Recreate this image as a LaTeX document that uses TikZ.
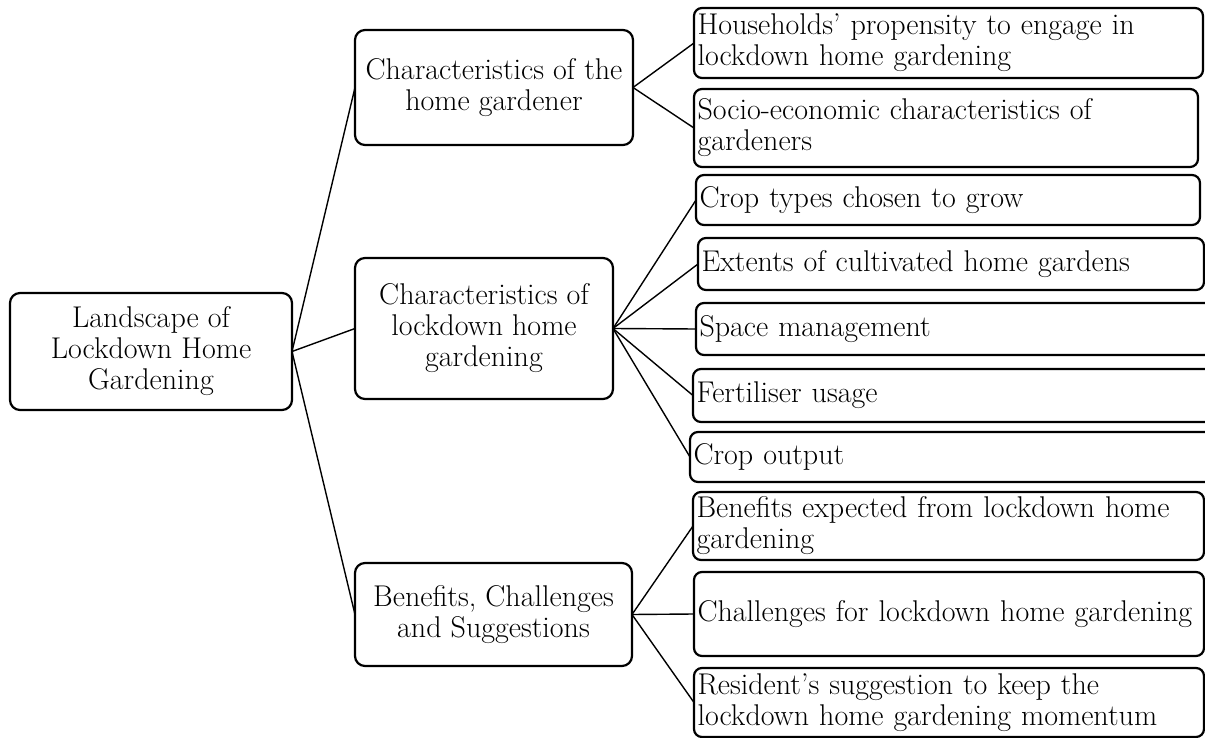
\documentclass[tikz,border=0pt]{standalone}
\newcommand\diagfont{\fontsize{30}{31}\selectfont}
\tikzset{
  box/.style={draw, line width=2.2pt, outer sep=0pt, rounded corners=10pt, font=\diagfont, anchor=north west},
  midbox/.style={box, align=center, inner sep=2pt},
  leafbox/.style={box, rounded corners=8pt, align=left, inner xsep=3.5pt, inner ysep=1pt},
  link/.style={line width=1.4pt},
}
\begin{document}
\begin{tikzpicture}[x=1pt,y=-1pt]
\useasboundingbox (0,0) rectangle (1205,738);
% root
\node[midbox, minimum width=282pt, minimum height=117pt] (root) at (10,293)
  {Landscape of\\Lockdown Home\\Gardening};
% level 2
\node[midbox, minimum width=278pt, minimum height=115pt] (A) at (355,30)
  {Characteristics of the\\home gardener};
\node[midbox, minimum width=258pt, minimum height=141pt] (B) at (355,258)
  {Characteristics of\\lockdown home\\gardening};
\node[midbox, minimum width=277pt, minimum height=103pt] (C) at (355,563)
  {Benefits, Challenges\\and Suggestions};
% level 3
\node[leafbox, text width=502pt, minimum height=70pt] (l1) at (694,8)
  {Households’ propensity to engage in\\lockdown home gardening};
\node[leafbox, text width=497pt, minimum height=78pt] (l2) at (694,89)
  {Socio-economic characteristics of\\gardeners};
\node[leafbox, text width=497pt, minimum height=50pt] (l3) at (696,175)
  {Crop types chosen to grow};
\node[leafbox, text width=499pt, minimum height=52pt] (l4) at (698,238)
  {Extents of cultivated home gardens};
\node[leafbox, text width=513pt, minimum height=52pt] (l5) at (696,303)
  {Space management};
\node[leafbox, text width=515pt, minimum height=53pt] (l6) at (693,369)
  {Fertiliser usage};
\node[leafbox, text width=518pt, minimum height=50pt] (l7) at (690,432)
  {Crop output};
\node[leafbox, text width=504pt, minimum height=68pt] (l8) at (693,492)
  {Benefits expected from lockdown home\\gardening};
\node[leafbox, text width=503pt, minimum height=84pt] (l9) at (694,572)
  {Challenges for lockdown home gardening};
\node[leafbox, text width=503pt, minimum height=69pt] (l10) at (694,668)
  {Resident’s suggestion to keep the\\lockdown home gardening momentum};
% connectors
\draw[link] (root.east) -- (A.west);
\draw[link] (root.east) -- (B.west);
\draw[link] (root.east) -- (C.west);
\draw[link] (A.east) -- (l1.west);
\draw[link] (A.east) -- (l2.west);
\draw[link] (B.east) -- (l3.west);
\draw[link] (B.east) -- (l4.west);
\draw[link] (B.east) -- (l5.west);
\draw[link] (B.east) -- (l6.west);
\draw[link] (B.east) -- (l7.west);
\draw[link] (C.east) -- (l8.west);
\draw[link] (C.east) -- (l9.west);
\draw[link] (C.east) -- (l10.west);
\end{tikzpicture}
\end{document}
